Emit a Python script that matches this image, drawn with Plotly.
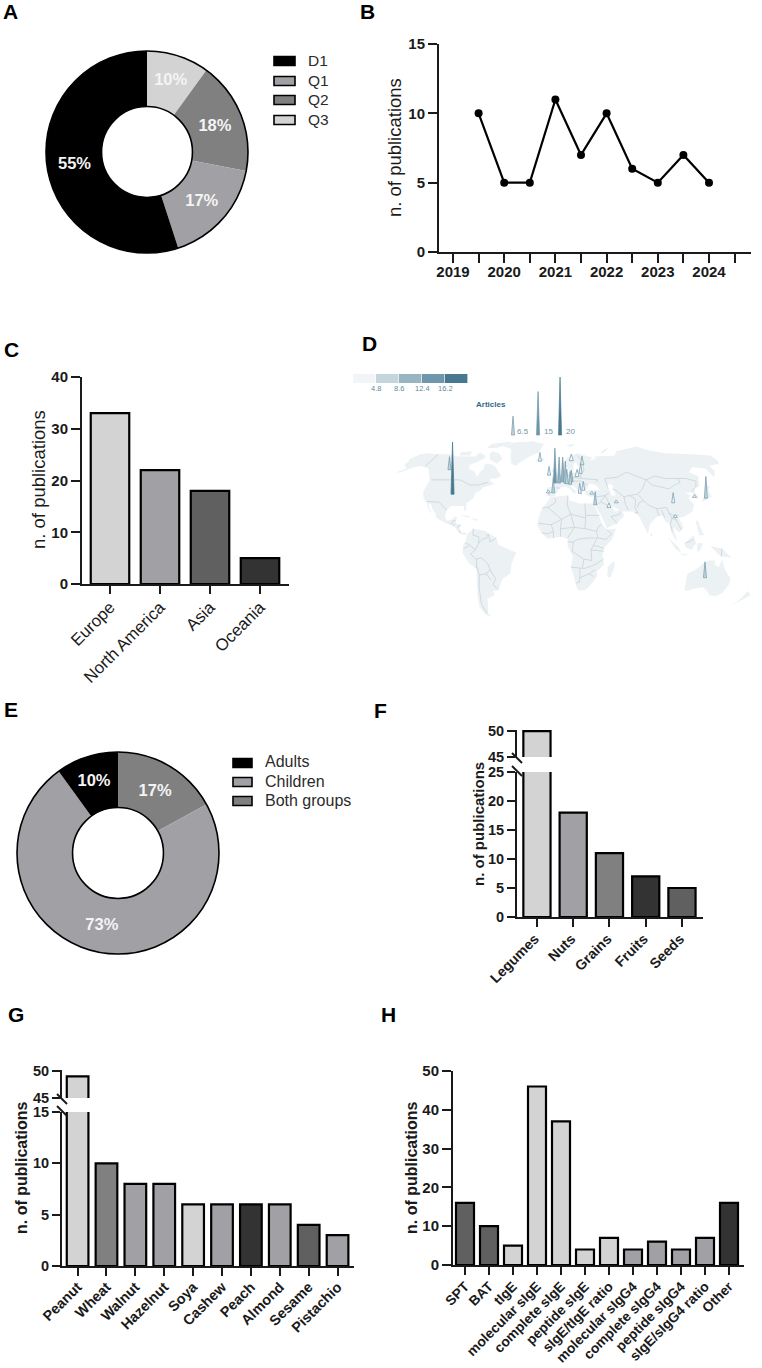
import numpy as np
import plotly.graph_objects as go

W, H = 762, 1368
FONT = "Liberation Sans"
INK = "#1a1a1a"
LIGHT, MID, GREY, DARK, DEEP = "#d3d3d3", "#a0a0a5", "#808080", "#606060", "#333333"

# Panel A, listed clockwise from twelve o'clock
quartile_labels = ["Q3", "Q2", "Q1", "D1"]
quartile_share = [10, 18, 17, 55]
quartile_colors = [LIGHT, GREY, MID, "#000000"]

# Panel B
year_points = [2019.5, 2020, 2020.5, 2021, 2021.5, 2022, 2022.5, 2023, 2023.5, 2024]
year_counts = [10, 5, 5, 11, 7, 10, 6, 5, 7, 5]
year_ticks = [2019, 2019.5, 2020, 2020.5, 2021, 2021.5, 2022, 2022.5, 2023, 2023.5, 2024, 2024.5]
year_tick_text = ["2019", "", "2020", "", "2021", "", "2022", "", "2023", "", "2024", ""]

# Panel C
continents = ["Europe", "North America", "Asia", "Oceania"]
continent_counts = [33, 22, 18, 5]
continent_colors = [LIGHT, MID, DARK, DEEP]

# Panel D: article counts placed by longitude and latitude
spike_lon = [-96, -112, -19, -8, -3.5, -8, -2, 2, 5.5, 8, 9.4, 12.6, 14, 16, 27, 24, 20, 24.5, 21,
             32, 34, 46, 53, 104, 135, 125, 103, 130]
spike_lat = [38, 57, 64, 52.7, 39, 39, 46.5, 46.5, 47.5, 46.5, 46, 45.5, 47.5, 64.5, 61, 54, 51.5, 41, 38.7,
             38, 30, 28, 31.5, 31.5, 35, 35.6, 20.5, -25]
spike_val = [18, 4.5, 3, 3, 5, 1, 12, 9, 8.5, 7.5, 5, 4.5, 4, 2.3, 3, 3.5, 2.5, 3, 3.5,
             1, 4.5, 1.5, 1, 3.5, 7.5, 1, 1, 5.5]
# Size key above the map, in projected plot units
key_x = [-37.6, -16.2, 2.6]
key_y = [1.024, 1.024, 1.024]
key_val = [6.5, 15, 20]
scale_ticks = ["4.8", "8.6", "12.4", "16.2"]
scale_colors = ["#f2f5f7", "#c5d5dc", "#9ab5c2", "#6f97ab", "#46788f"]

land_polygons = [
    [(-168,66),(-162,70),(-156,71),(-141,70),(-128,70),(-115,68),(-108,68),(-95,68),(-94,72),(-85,69),(-82,67),(-87,64),(-94,61),(-93,58),(-85,55.5),(-82,53),(-79,51.5),(-79,55),(-77,57),(-78,62),(-70,61),(-65,59),(-61,56),(-56,52),(-60,50),(-66,50),(-65,48),(-60,46),(-66,44),(-70,43),(-71,41),(-75,39),(-76,35),(-81,31),(-80,26),(-81,25),(-83,29),(-90,29),(-94,29),(-97,26),(-98,21),(-95,18),(-91,19),(-90,21),(-87,21),(-88,16),(-83,15),(-84,11),(-81,9),(-78,9),(-78,7.5),(-81,7.5),(-85,10),(-88,13),(-92,15),(-96,16),(-105,20),(-106,23),(-110,27),(-113,31),(-115,31),(-110,23),(-112,25),(-117,32),(-121,35),(-124,40),(-124,48),(-130,54),(-135,58),(-145,60),(-152,59),(-160,55),(-165,54.5),(-158,58),(-165,61),(-165,64)],
    [(-73,78),(-60,82),(-35,83.5),(-18,80),(-22,72),(-32,68),(-42,62),(-44,60),(-50,62),(-54,68),(-58,75)],
    [(-80,73),(-70,71),(-62,66),(-66,62),(-75,65),(-80,70)],
    [(-117,72),(-105,73),(-102,69),(-115,69)],
    [(-90,80),(-70,83),(-62,82),(-78,76),(-90,76)],
    [(-72,12),(-62,10.5),(-52,5),(-50,0),(-44,-2.5),(-35,-6),(-39,-14),(-41,-22),(-48,-26),(-53,-34),(-58,-35),(-57,-38),(-65,-41),(-66,-46),(-69,-52),(-66,-55),(-72,-53),(-75,-47),(-73,-38),(-71,-28),(-70,-18),(-76,-14),(-81,-6),(-80,0),(-78,3),(-77,8)],
    [(-6,35.8),(10,37),(11,33.5),(20,31),(32,31),(34,28),(37,21),(39,15),(43,11.5),(51,12),(47,4),(40,-3),(39,-8),(40.5,-15),(35,-20),(35,-24),(32,-28),(26,-34),(20,-34.8),(18,-33),(14,-22),(12,-17),(13.5,-9),(9,-1),(9.5,4),(4,6),(-4,5),(-8,4.5),(-13,8.5),(-17,14.5),(-16,20),(-13,27.5),(-9.5,31)],
    [(-9,37),(-9,43),(-1,44),(-4.5,48.5),(2,51),(8,54),(8.5,57),(11,54.5),(20,54.5),(24,59),(30,60),(22,60),(21,63.5),(25,65.5),(18,62),(17,57),(13,55.5),(11,59),(5,59),(5,62),(14,68),(25,71),(41,67),(35,64.5),(44,66),(44,68),(68,69),(73,73),(87,75),(105,77.5),(113,74),(130,71),(160,70),(180,69),(180,65),(177,62),(163,60),(163,56),(156,51),(156,58),(143,59),(135,55),(141,52),(135,44),(130,42.5),(127,39.5),(129,35.5),(126,34.5),(125,39.5),(121,39),(118,39),(122,37),(119,35),(122,30),(119,25),(111,21),(106,20),(109,13),(105,9),(100,13),(103,2),(100,6),(98,10),(97,16),(94,17),(92,22),(87,21),(80,15),(78,8),(73,18),(72,21),(67,25),(57,25),(51,28),(48,30),(51,25),(56,26),(59,22),(52,16),(43,12.5),(39,21),(35,28),(34,31),(36,36),(30,36),(26,38),(26,40),(29,41),(40,41),(37,45),(31,46),(28,42),(26,40.5),(23,40),(23,36.5),(20,39),(19,42),(14,45),(12.5,44),(18,40),(16,38),(12,42),(8,44),(3,43),(0,39),(-2,36.7),(-6,36)],
    [(114,-22),(122,-18),(126,-14),(131,-12),(136,-12),(136,-15),(140,-17),(142,-11),(146,-19),(153,-26),(153,-31),(150,-37),(146,-39),(140,-38),(136,-35),(131,-32),(124,-33),(118,-35),(115,-34),(114,-27)],
    [(49,-12),(50,-16),(47,-25),(44,-24),(44,-17)],
    [(-5,50),(1,51),(0,54),(-3,58.5),(-6,56.5),(-3,54),(-5,52)],
    [(-10,52),(-6,52),(-6,55),(-10,54)],
    [(-24,65),(-15,66.5),(-14,64.5),(-22,63.5)],
    [(130,32),(136,34),(141,36),(141,41),(145,44),(141,45),(139,38),(133,35.5)],
    [(95,5.5),(104,-2),(106,-6),(101,-3)],
    [(109,1),(117,7),(119,1),(115,-4),(110,-2)],
    [(105,-6.5),(115,-8),(108,-8)],
    [(120,1),(125,1),(122,-5),(120,-5)],
    [(131,-1),(141,-3),(150,-10),(141,-9),(138,-7)],
    [(120,18),(122,18),(124,12),(126,7),(122,7)],
    [(173,-35),(178,-38),(174,-41),(167,-46),(171,-41)],
    [(-85,22),(-75,20),(-78,22)],
    [(-74,20),(-68,18.5),(-72,18)],
    [(80,9.5),(82,7),(80,6)],
    [(52,71),(58,74),(68,77),(56,71)],
    [(12,79),(25,80),(18,77)],
]
inland_water = [[(50,46),(53,45),(53,40),(54,37),(50,37),(49,41),(47,44)]]
border_lines = [
    [(-123,49),(-95,49),(-83,45),(-75,45),(-67,47)],
    [(-141,70),(-141,60)],
    [(-117,32.5),(-106,32),(-97,26)],
    [(-92,15),(-90,18),(-88,18)],
    [(-88,16),(-90,14)],
    [(-83,15),(-86,13)],
    [(-84,11),(-83,8.5)],
    [(-72,12),(-72,7),(-67,6),(-67,1),(-70,-4),(-74,-7),(-70,-11),(-65,-10),(-60,-14),(-58,-19),(-54,-26),(-57,-30),(-53,-34)],
    [(-60,8),(-60,5),(-64,4),(-67,1)],
    [(-78,1),(-75,0),(-70,-4)],
    [(-80,-3),(-75,-1)],
    [(-70,-18),(-69,-11)],
    [(-69,-17),(-68,-23),(-70,-33),(-72,-45),(-70,-52)],
    [(-68,-23),(-62,-22),(-58,-19)],
    [(-62,-22),(-58,-27)],
    [(-57,2),(-52,5)],
    [(-59,8),(-57,2)],
    [(-2,35),(-1,32),(-8,28),(-13,27.5)],
    [(-8,28),(4,19),(12,23),(9,30),(10,37)],
    [(12,23),(25,20),(25,31)],
    [(25,22),(37,22)],
    [(25,20),(24,12),(15,13),(12,23)],
    [(24,12),(34,10),(36,14),(39,15)],
    [(34,10),(35,5),(42,4),(47,8),(43,11)],
    [(-16,16),(-5,15),(4,19)],
    [(-5,15),(-3,10),(-8,8),(-13,9)],
    [(4,19),(3,12),(15,13)],
    [(3,12),(3,6)],
    [(15,13),(9,5)],
    [(-3,10),(-3,5)],
    [(9,2),(14,2),(18,4),(27,5),(35,5)],
    [(14,2),(13,-5),(23,-11),(30,-12),(29,-4),(31,-1),(34,4)],
    [(29,-4),(40,-5)],
    [(31,-1),(34,-1),(40,-3)],
    [(12,-17),(24,-18),(33,-15),(40,-11)],
    [(23,-11),(22,-18)],
    [(20,-18),(20,-28),(17,-29)],
    [(20,-25),(28,-22),(32,-24)],
    [(28,-22),(33,-19)],
    [(-9,42),(-7,37)],
    [(-1,43),(3,42.5)],
    [(2,51),(7,49),(7,47),(13,47),(17,48),(23,48),(29,45)],
    [(8,54),(14,51),(24,50),(24,54),(28,56),(28,60)],
    [(24,50),(40,49),(38,47)],
    [(14,51),(17,48)],
    [(24,69),(30,62),(28,60)],
    [(48,42),(47,50),(60,51),(71,55),(87,49)],
    [(52,42),(55,41),(61,36),(66,37),(74,38),(80,42),(87,49),(98,52),(107,50),(119,50),(127,50),(135,48),(131,43)],
    [(87,49),(91,45),(105,42),(112,45),(119,47),(119,50)],
    [(74,38),(78,33),(81,30),(88,27),(97,28),(98,24),(102,22),(106,22)],
    [(61,36),(61,30),(63,26)],
    [(66,37),(71,34),(69,28),(71,24),(68,24)],
    [(78,33),(74,32),(71,28)],
    [(88,27),(89,22)],
    [(92,26),(94,20)],
    [(98,24),(100,20),(98,15),(99,10)],
    [(102,22),(105,15),(107,11)],
    [(100,20),(104,18)],
    [(44,37),(47,30)],
    [(36,36),(44,37),(48,39)],
    [(44,37),(39,32),(35,30)],
    [(39,32),(47,29)],
    [(52,16),(47,21),(55,23),(56,25)],
    [(125,40),(130,43)],
    [(141,-3),(141,-9)],
    [(110,1),(117,4)],
]

# Robinson projection table, by absolute latitude in 5 degree steps
ROB_LAT = list(range(0, 95, 5))
ROB_PLEN = [1, .9986, .9954, .99, .9822, .973, .96, .9427, .9216, .8962, .8679, .835, .7986, .7597, .7186, .6732,
            .6213, .5722, .5322]
ROB_PDFE = [0, .062, .124, .186, .248, .310, .372, .434, .4958, .5571, .6176, .6769, .7346, .7903, .8435, .8936,
            .9394, .9761, 1]


def project(lon, lat):
    scale = np.interp(abs(lat), ROB_LAT, ROB_PLEN)
    height = np.interp(abs(lat), ROB_LAT, ROB_PDFE)
    return float(lon * scale), float(height if lat >= 0 else -height)


# Panel E, listed clockwise from twelve o'clock
age_labels = ["Both groups", "Children", "Adults"]
age_share = [17, 73, 10]
age_colors = [GREY, MID, "#000000"]

# Panel F
food_groups = ["Legumes", "Nuts", "Grains", "Fruits", "Seeds"]
food_group_counts = [50, 18, 11, 7, 5]
food_group_colors = [LIGHT, MID, GREY, DEEP, DARK]

# Panel G
foods = ["Peanut", "Wheat", "Walnut", "Hazelnut", "Soya", "Cashew", "Peach", "Almond", "Sesame", "Pistachio"]
food_counts = [49, 10, 8, 8, 6, 6, 6, 6, 4, 3]
food_colors = [LIGHT, GREY, MID, MID, LIGHT, MID, DEEP, MID, DARK, MID]

# Panel H
tests = ["SPT", "BAT", "tIgE", "molecular sIgE", "complete sIgE", "peptide sIgE", "sIgE/tIgE ratio",
         "molecular sIgG4", "complete sIgG4", "peptide sIgG4", "sIgE/sIgG4 ratio", "Other"]
test_counts = [16, 10, 5, 46, 37, 4, 7, 4, 6, 4, 7, 16]
test_colors = [DARK, DARK, LIGHT, LIGHT, LIGHT, LIGHT, LIGHT, MID, MID, MID, MID, DEEP]

panel_letters = [("A", 10, 11.5), ("B", 367.5, 11.5), ("C", 11.5, 350), ("D", 369, 343),
                 ("E", 11, 709), ("F", 380, 710), ("G", 16, 1014), ("H", 388, 1014)]


def dx(a, b):
    return [a / W, b / W]


def dy(top, bottom):
    return [1 - bottom / H, 1 - top / H]


fig = go.Figure()
layout = {}
shapes = []
notes = []


def note(text, x, y, size=14, bold=False, color=INK, angle=0, anchor="center"):
    notes.append(dict(text=f"<b>{text}</b>" if bold else text, x=x / W, y=1 - y / H, xref="paper", yref="paper",
                      xanchor=anchor, yanchor="middle", showarrow=False, textangle=angle,
                      font=dict(family=FONT, size=size, color=color)))


def axis_style(**extra):
    base = dict(showgrid=False, zeroline=False, showline=True, linecolor=INK, linewidth=2,
                ticks="outside", tickwidth=2, tickcolor=INK, ticklen=8,
                tickfont=dict(family=FONT, size=14, color=INK))
    base.update(extra)
    return base


def number_font(size=15):
    return dict(family=FONT, size=size, color=INK, weight="bold")


def donut(labels, values, colors, cx, cy, r):
    fig.add_trace(go.Pie(labels=labels, values=values, sort=False, direction="clockwise", rotation=0,
                         hole=0.45, showlegend=False, textinfo="text",
                         text=[f"{v}%" for v in values], textposition="inside",
                         insidetextorientation="horizontal",
                         insidetextfont=dict(family=FONT, size=16.5, color="#f4f4f4", weight="bold"),
                         marker=dict(colors=colors, line=dict(width=0)),
                         domain=dict(x=dx(cx - r, cx + r), y=dy(cy - r, cy + r))))
    # Outer and inner rims only, so neighbouring slices meet without a dividing line
    for rim in (r, r * 0.45):
        shapes.append(dict(type="circle", xref="paper", yref="paper", x0=(cx - rim) / W, x1=(cx + rim) / W,
                           y0=1 - (cy + rim) / H, y1=1 - (cy - rim) / H, line=dict(color="#000000", width=1.6)))


def swatches(labels, colors, x0, x1, text_x, rows, size, h=9):
    for lab, col, row in zip(labels, colors, rows):
        shapes.append(dict(type="rect", xref="paper", yref="paper", x0=x0 / W, x1=x1 / W,
                           y0=1 - (row + h / 2) / H, y1=1 - (row - h / 2) / H,
                           fillcolor=col, line=dict(color="#000000", width=1.6)))
        note(lab, text_x - 2, row - 1, size=size, anchor="left", color="#2b2b2b")


def bars(names, values, colors, xref, yref, bar_width=0.75):
    fig.add_trace(go.Bar(x=list(range(len(names))), y=values, width=bar_width, xaxis=xref, yaxis=yref,
                         marker=dict(color=colors, line=dict(color="#000000", width=2.2)),
                         showlegend=False))


def slash(x, y):
    shapes.append(dict(type="line", xref="paper", yref="paper", x0=(x - 5) / W, x1=(x + 5) / W,
                       y0=1 - (y - 5) / H, y1=1 - (y + 5) / H, line=dict(color=INK, width=2)))


# A: journal quartiles
donut(quartile_labels, quartile_share, quartile_colors, 147, 152, 101)
swatches(quartile_labels[::-1], quartile_colors[::-1], 274, 295, 308, [61, 81, 100, 120], 15.5)

# B: publications per year
fig.add_trace(go.Scatter(x=year_points, y=year_counts, mode="lines+markers", showlegend=False,
                         xaxis="x", yaxis="y", line=dict(color="#000000", width=2.2),
                         marker=dict(color="#000000", size=8)))
layout["xaxis"] = axis_style(domain=dx(439, 751), anchor="y",
                             range=[2019 + (439 - 453) / 51.2, 2019 + (751 - 453) / 51.2],
                             tickmode="array", tickvals=year_ticks, ticktext=year_tick_text, ticklen=9,
                             ticklabelstandoff=-4, tickfont=number_font())
layout["yaxis"] = axis_style(domain=dy(44, 252), anchor="x", range=[0, 15], tickvals=[0, 5, 10, 15], ticklen=9,
                             tickfont=number_font())
note("n. of publications", 395, 148, size=18.5, angle=-90)

# C: publications per continent
bars(continents, continent_counts, continent_colors, "x2", "y2", 0.77)
layout["xaxis2"] = axis_style(domain=dx(82, 289), anchor="y2", range=[-0.56, 3.58], tickmode="array",
                              tickvals=list(range(4)), ticktext=continents, tickangle=-45, ticklabelstandoff=-3,
                              tickfont=dict(family=FONT, size=16.8, color=INK))
layout["yaxis2"] = axis_style(domain=dy(377, 584), anchor="x2", range=[0, 40], tickvals=[0, 10, 20, 30, 40],
                              ticklen=9, tickfont=number_font())
note("n. of publications", 38, 480, size=18.5, angle=-90)

# D: world map with spikes, on linear axes in projected units
PX_PER_X, PX_PER_Y, X0_PX, Y0_PX = 1.17, 107.0, 557, 544.6
MAP_L, MAP_R, MAP_T, MAP_B = 345, 762, 360, 630
layout["xaxis3"] = dict(domain=dx(MAP_L, MAP_R), anchor="y3", visible=False,
                        range=[(MAP_L - X0_PX) / PX_PER_X, (MAP_R - X0_PX) / PX_PER_X])
layout["yaxis3"] = dict(domain=dy(MAP_T, MAP_B), anchor="x3", visible=False,
                        range=[(Y0_PX - MAP_B) / PX_PER_Y, (Y0_PX - MAP_T) / PX_PER_Y])


def projected_ring(points):
    pairs = [project(lon, lat) for lon, lat in points]
    pairs.append(pairs[0])
    return [p[0] for p in pairs], [p[1] for p in pairs]


for poly in land_polygons:
    xs, ys = projected_ring(poly)
    fig.add_trace(go.Scatter(x=xs, y=ys, fill="toself", fillcolor="#ecf1f4", mode="lines", line=dict(width=0),
                             xaxis="x3", yaxis="y3", showlegend=False, hoverinfo="skip"))
for poly in inland_water:
    xs, ys = projected_ring(poly)
    fig.add_trace(go.Scatter(x=xs, y=ys, fill="toself", fillcolor="#ffffff", mode="lines", line=dict(width=0),
                             xaxis="x3", yaxis="y3", showlegend=False, hoverinfo="skip"))
border_x, border_y = [], []
for line in border_lines:
    pairs = [project(lon, lat) for lon, lat in line]
    border_x += [p[0] for p in pairs] + [None]
    border_y += [p[1] for p in pairs] + [None]
fig.add_trace(go.Scatter(x=border_x, y=border_y, mode="lines", line=dict(color="#c6d4db", width=0.8),
                         xaxis="x3", yaxis="y3", showlegend=False, hoverinfo="skip"))


def spike(x, y, value):
    half = 1.3 if value >= 3 else 1.7
    top = y + value * 2.9 / PX_PER_Y
    bin_i = min(int(value // 3.8), 4)
    fill = scale_colors[bin_i] if value >= 3 else "#ffffff"
    edge = scale_colors[max(bin_i, 3)]
    fig.add_trace(go.Scatter(x=[x - half, x, x + half, x - half], y=[y, top, y, y], fill="toself",
                             fillcolor=fill, mode="lines", line=dict(color=edge, width=0.7),
                             xaxis="x3", yaxis="y3", showlegend=False, hoverinfo="skip"))


for lon, lat, val in sorted(zip(spike_lon, spike_lat, spike_val), key=lambda s: -s[1]):
    spike(*project(lon, lat), val)
for x, y, val in zip(key_x, key_y, key_val):
    spike(x, y, val)
for i, col in enumerate(scale_colors):
    shapes.append(dict(type="rect", xref="paper", yref="paper", x0=(353 + 23 * i) / W, x1=(352.4 + 23 * (i + 1)) / W,
                       y0=1 - 383 / H, y1=1 - 374 / H, fillcolor=col, line=dict(width=0)))
for i, txt in enumerate(scale_ticks):
    note(txt, 376 + 23.2 * i, 388.5, size=7.5, color="#5f8a9e")
note("Articles", 491, 405, size=8, bold=True, color="#2f6a85")
for x, val in zip(key_x, key_val):
    note(str(val), X0_PX + x * PX_PER_X + 10, 431, size=8, color="#6f97ab", anchor="center")

# E: age groups
donut(age_labels, age_share, age_colors, 118, 853, 101)
swatches(age_labels[::-1], age_colors[::-1], 233, 252, 265, [763, 782, 801], 16)


def broken_axes(names, values, colors, ids, x_span, x_range, low_span, low_range, low_ticks, high_span, title_xy,
                label_size, title_size, shift, standoff):
    xl, yl, xh, yh = ids
    bars(names, values, colors, xl, yl)
    bars(names, values, colors, xh, yh)
    layout["xaxis" + xl[1:]] = axis_style(domain=dx(*x_span), anchor=yl, range=x_range, tickmode="array",
                                          tickvals=list(range(len(names))), ticktext=names, tickangle=-45,
                                          ticklabelshift=shift, ticklabelstandoff=standoff,
                                          tickfont=dict(family=FONT, size=label_size, color=INK, weight="bold"))
    layout["yaxis" + yl[1:]] = axis_style(domain=dy(*low_span), anchor=xl, range=low_range, tickvals=low_ticks,
                                          tickfont=number_font(14.5))
    layout["xaxis" + xh[1:]] = dict(domain=dx(*x_span), anchor=yh, range=x_range, visible=False)
    layout["yaxis" + yh[1:]] = axis_style(domain=dy(*high_span), anchor=xh, range=[45, 50.2], tickvals=[45, 50],
                                          tickfont=number_font(14.5))
    slash(x_span[0], high_span[1] + 1)
    slash(x_span[0], low_span[0] - 1)
    note("n. of publications", title_xy[0], title_xy[1], size=title_size, bold=True, angle=-90)


# F: food groups, axis broken between 25 and 45
broken_axes(food_groups, food_group_counts, food_group_colors, ("x4", "y4", "x5", "y5"), (517, 703), [-0.55, 4.58],
            (772, 917), [0, 25], [0, 5, 10, 15, 20, 25], (730, 757), (478, 824), 14.2, 15, -2, -2)

# G: foods, axis broken between 15 and 45
broken_axes(foods, food_counts, food_colors, ("x6", "y6", "x7", "y7"), (62, 354), [-0.54, 9.57],
            (1112, 1266), [0, 15], [0, 5, 10, 15], (1070, 1098), (21, 1168), 14.4, 16, 0, -3)

# H: diagnostic tests
bars(tests, test_counts, test_colors, "x8", "y8")
layout["xaxis8"] = axis_style(domain=dx(453, 744), anchor="y8", range=[-0.5, 11.625], tickmode="array",
                              tickvals=list(range(12)), ticktext=tests, tickangle=-45, ticklabelstandoff=-2,
                              tickfont=dict(family=FONT, size=13.8, color=INK, weight="bold"))
layout["yaxis8"] = axis_style(domain=dy(1071, 1265), anchor="x8", range=[0, 50], tickvals=[0, 10, 20, 30, 40, 50],
                              ticklen=9, tickfont=number_font())
note("n. of publications", 411, 1168, size=16, bold=True, angle=-90)

for letter, x, y in panel_letters:
    note(letter, x, y, size=21, bold=True, color="#000000")

fig.update_layout(width=W, height=H, margin=dict(l=0, r=0, t=0, b=0, autoexpand=False),
                  paper_bgcolor="white", plot_bgcolor="white",
                  shapes=shapes, annotations=notes, bargap=0.25, **layout)
fig.write_html("out.html")
